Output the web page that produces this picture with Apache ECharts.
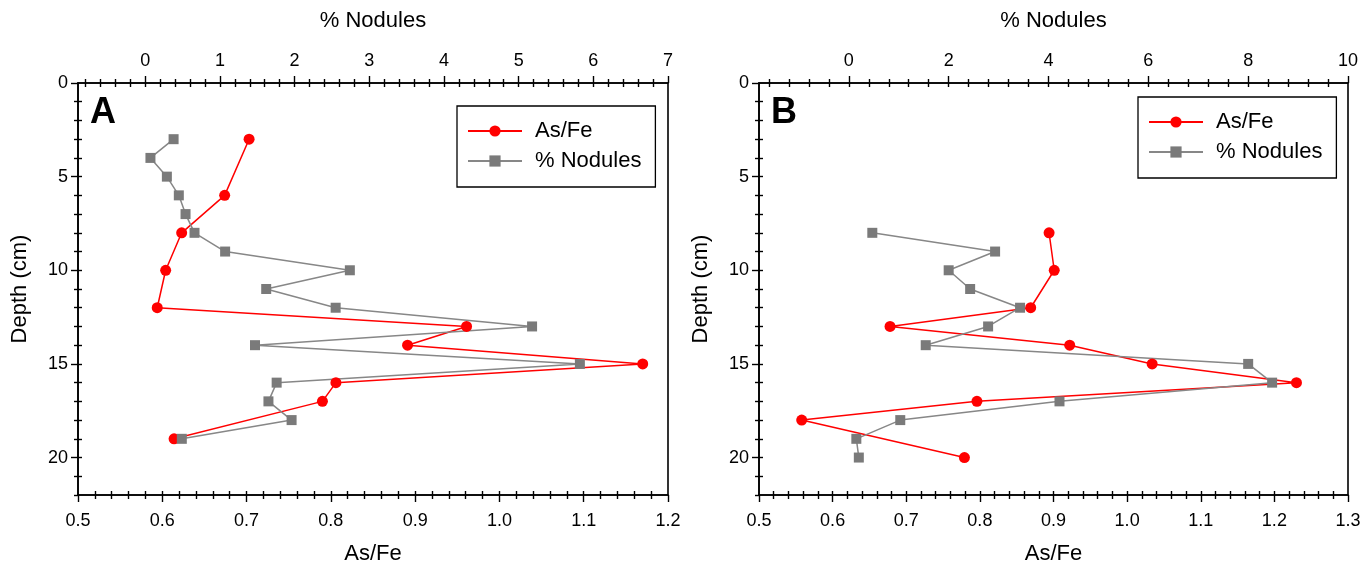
<!DOCTYPE html>
<html>
<head>
<meta charset="utf-8">
<script src="https://cdn.jsdelivr.net/npm/echarts@6/dist/echarts.min.js"></script>
<style>
  html, body { margin: 0; padding: 0; background: #fff; }
  #chart { width: 1360px; height: 565px; }
</style>
</head>
<body>
<div id="chart"></div>
<script>
// ---- Core A ----
const depthAsFeA = [3, 6, 8, 10, 12, 13, 14, 15, 16, 17, 19];
const asFeA      = [0.703, 0.674, 0.623, 0.604, 0.594, 0.961, 0.891, 1.170, 0.806, 0.790, 0.614];
const depthNodA  = [3, 4, 5, 6, 7, 8, 9, 10, 11, 12, 13, 14, 15, 16, 17, 18, 19];
const nodulesA   = [0.38, 0.07, 0.29, 0.45, 0.54, 0.66, 1.07, 2.74, 1.62, 2.55, 5.18, 1.47, 5.82, 1.76, 1.65, 1.96, 0.49];

// ---- Core B ----
const depthAsFeB = [8, 10, 12, 13, 14, 15, 16, 17, 18, 20];
const asFeB      = [0.894, 0.901, 0.869, 0.678, 0.922, 1.034, 1.230, 0.796, 0.558, 0.779];
const depthNodB  = [8, 9, 10, 11, 12, 13, 14, 15, 16, 17, 18, 19, 20];
const nodulesB   = [0.47, 2.93, 2.00, 2.43, 3.43, 2.79, 1.54, 8.00, 8.48, 4.22, 1.03, 0.15, 0.20];

// ---- Tick labels ----
const depthTicks = [0, 5, 10, 15, 20];
const asFeTicksA = [0.5, 0.6, 0.7, 0.8, 0.9, 1.0, 1.1, 1.2];
const asFeTicksB = [0.5, 0.6, 0.7, 0.8, 0.9, 1.0, 1.1, 1.2, 1.3];
const nodTicksA  = [0, 1, 2, 3, 4, 5, 6, 7];
const nodTicksB  = [0, 2, 4, 6, 8, 10];

const FONT = '"Liberation Sans", Arial, Helvetica, sans-serif';
const BLACK = '#000';

function steps(from, to, step) {
  const out = [];
  const n = Math.round((to - from) / step);
  for (let i = 0; i <= n; i++) out.push(+(from + i * step).toFixed(4));
  return out;
}
function withoutMajors(list, majors) {
  return list.filter(v => !majors.some(m => Math.abs(m - v) < 1e-6));
}

const panels = [
  {
    letter: 'A', left: 78, width: 590,
    asFe: { min: 0.5, max: 1.2, ticks: asFeTicksA, minor: steps(0.5, 1.2, 0.02) },
    nod:  { min: -0.9, max: 7, ticks: nodTicksA, minor: steps(-0.8, 7, 0.2) },
    asFeX: asFeA, asFeD: depthAsFeA, nodX: nodulesA, nodD: depthNodA,
    legendLeft: 457, legendTop: 106
  },
  {
    letter: 'B', left: 759, width: 589,
    asFe: { min: 0.5, max: 1.3, ticks: asFeTicksB, minor: steps(0.5, 1.3, 0.02) },
    nod:  { min: -1.8, max: 10, ticks: nodTicksB, minor: steps(-1.6, 10, 0.4) },
    asFeX: asFeB, asFeD: depthAsFeB, nodX: nodulesB, nodD: depthNodB,
    legendLeft: 1138, legendTop: 97
  }
];
const TOP = 83, HEIGHT = 412;
const depthMinor = steps(0, 22, 1);

const grids = [], xAxes = [], yAxes = [], series = [], legends = [], graphics = [];

// One side of a frame is drawn by three stacked axes:
// labelled major ticks pointing out, short minor ticks pointing out,
// and short ticks pointing in.
function sideAxes(base, ticks, minor, labelFmt, name, nameGap, labelMargin) {
  const major = Object.assign({}, base, {
    name: name,
    nameLocation: 'middle',
    nameGap: nameGap,
    nameTextStyle: { fontFamily: FONT, fontSize: 22, color: BLACK },
    axisLine: { show: true, onZero: false, lineStyle: { color: BLACK, width: 1.6 } },
    axisTick: { show: true, inside: false, length: 7, customValues: ticks, lineStyle: { color: BLACK, width: 1.4 } },
    axisLabel: { show: true, customValues: ticks, formatter: labelFmt, margin: labelMargin,
                 fontFamily: FONT, fontSize: 18, color: BLACK },
    splitLine: { show: false }
  });
  const minorOut = Object.assign({}, base, {
    axisLine: { show: false, onZero: false },
    axisTick: { show: true, inside: false, length: 4, customValues: withoutMajors(minor, ticks), lineStyle: { color: BLACK, width: 1.4 } },
    axisLabel: { show: false },
    splitLine: { show: false }
  });
  const inner = Object.assign({}, base, {
    axisLine: { show: false, onZero: false },
    axisTick: { show: true, inside: true, length: 4, customValues: minor.filter(v => v > base.min + 1e-6 && v < base.max - 1e-6), lineStyle: { color: BLACK, width: 1.4 } },
    axisLabel: { show: false },
    splitLine: { show: false }
  });
  return [major, minorOut, inner];
}

panels.forEach((p, gi) => {
  grids.push({
    left: p.left, top: TOP, width: p.width, height: HEIGHT,
    outerBoundsMode: 'none', containLabel: false,
    show: true, borderColor: BLACK, borderWidth: 1.6, backgroundColor: 'transparent'
  });

  const xBase = xAxes.length;
  sideAxes({ type: 'value', gridIndex: gi, position: 'bottom', min: p.asFe.min, max: p.asFe.max },
           p.asFe.ticks, p.asFe.minor, v => v.toFixed(1), 'As/Fe', 48, 17)
    .forEach(a => xAxes.push(a));
  const xTop = xAxes.length;
  sideAxes({ type: 'value', gridIndex: gi, position: 'top', min: p.nod.min, max: p.nod.max },
           p.nod.ticks, p.nod.minor, v => String(Math.round(v)), '% Nodules', 51, 13)
    .forEach(a => xAxes.push(a));

  const yBase = yAxes.length;
  sideAxes({ type: 'value', gridIndex: gi, position: 'left', min: 0, max: 22, inverse: true },
           depthTicks, depthMinor, v => String(v), 'Depth (cm)', 47, 10)
    .forEach(a => yAxes.push(a));

  series.push({
    type: 'line', name: 'As/Fe',
    xAxisIndex: xBase, yAxisIndex: yBase,
    data: p.asFeD.map((d, i) => [p.asFeX[i], d]),
    symbol: 'circle', symbolSize: 11,
    lineStyle: { color: '#ff0000', width: 1.5 },
    itemStyle: { color: '#ff0000' },
    clip: false
  });
  series.push({
    type: 'line', name: '% Nodules',
    xAxisIndex: xTop, yAxisIndex: yBase,
    data: p.nodD.map((d, i) => [p.nodX[i], d]),
    symbol: 'rect', symbolSize: 10,
    lineStyle: { color: '#878787', width: 1.5 },
    itemStyle: { color: '#7a7a7a' },
    clip: false
  });

  legends.push({
    data: ['As/Fe', '% Nodules'],
    orient: 'vertical',
    left: p.legendLeft, top: p.legendTop,
    padding: [14, 14, 15, 10],
    itemGap: 8,
    itemWidth: 54, itemHeight: 14,
    borderColor: BLACK, borderWidth: 1.3,
    selectedMode: false,
    textStyle: { fontFamily: FONT, fontSize: 22, color: BLACK, lineHeight: 20, padding: [0, 0, 0, 8] }
  });

  graphics.push({
    type: 'text', left: p.left + 12, top: 95,
    style: { text: p.letter, font: 'bold 36px ' + FONT, fill: BLACK }
  });
});

const chart = echarts.init(document.getElementById('chart'), null, { renderer: 'canvas' });
chart.setOption({
  animation: false,
  backgroundColor: '#fff',
  grid: grids,
  xAxis: xAxes,
  yAxis: yAxes,
  legend: legends,
  series: series,
  graphic: graphics
});
</script>
</body>
</html>
